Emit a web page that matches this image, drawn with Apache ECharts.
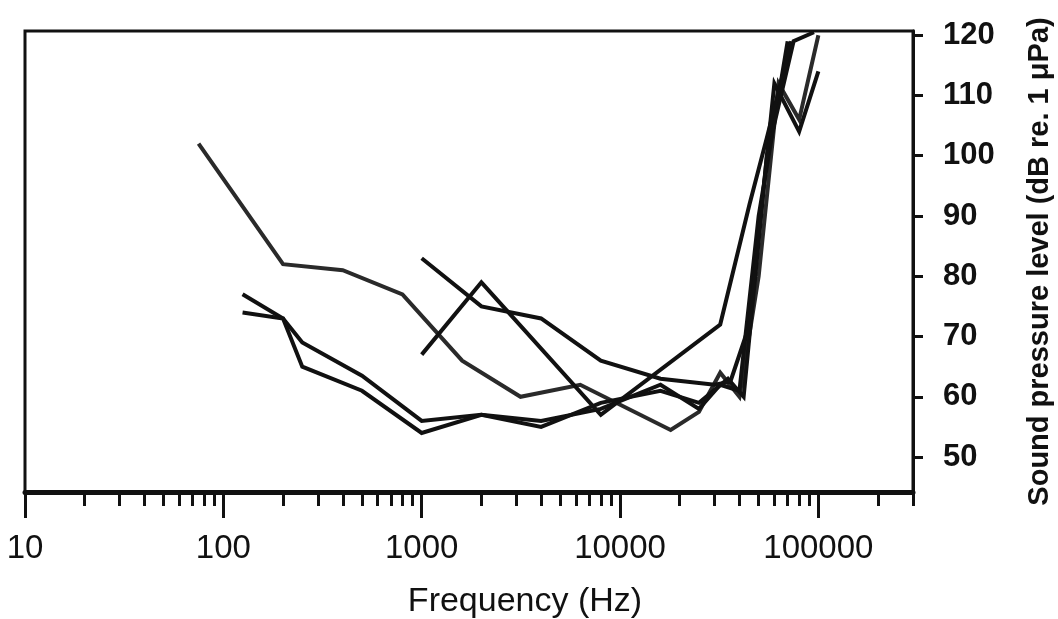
<!DOCTYPE html>
<html>
<head>
<meta charset="utf-8">
<script src="https://cdn.jsdelivr.net/npm/echarts@6/dist/echarts.min.js"></script>
<style>
html,body{margin:0;padding:0;background:#fff;}
#chart{width:1058px;height:619px;}
</style>
</head>
<body>
<div id="chart"></div>
<script>
// Frequencies (Hz) and thresholds (dB re. 1 µPa) for each audiogram
const freqA = [75, 200, 400, 800, 1600, 3150, 6300, 18000, 25000, 32000, 40000, 50000, 63000, 80000, 100000];
const dbA   = [102, 82, 81, 77, 66, 60, 62, 54.5, 57.5, 64, 60, 80, 112, 106, 120];

const freqB = [125, 200, 250, 500, 1000, 2000, 4000, 8000, 16000, 25000, 32000, 40000, 50000, 70000];
const dbB   = [77, 73, 69, 63.5, 56, 57, 56, 58, 62, 58, 62, 61, 90, 119];

const freqC = [125, 200, 250, 500, 1000, 2000, 4000, 8000, 16000, 25000, 35000, 42000, 55000, 75000, 95000];
const dbC   = [74, 73, 65, 61, 54, 57, 55, 59, 61, 59, 63, 60, 100, 119, 120.5];

const freqD = [1000, 2000, 4000, 8000, 16000, 30000, 36000, 45000, 60000, 80000, 100000];
const dbD   = [83, 75, 73, 66, 63, 62, 62.5, 72, 112, 104, 114];

const freqE = [1000, 2000, 8000, 32000, 45000, 55000, 73000];
const dbE   = [67, 79, 57, 72, 92, 103, 119];

// Axis ticks
const xMajorTicks = [10, 100, 1000, 10000, 100000];
const xMinorTicks = [20,30,40,50,60,70,80,90, 200,300,400,500,600,700,800,900,
                     2000,3000,4000,5000,6000,7000,8000,9000,
                     20000,30000,40000,50000,60000,70000,80000,90000, 200000, 300000];
const yTicks = [50, 60, 70, 80, 90, 100, 110, 120];

const X_MIN = 10, X_MAX = 300000, Y_MIN = 44.2, Y_MAX = 120.7;

function zip(f, d) { return f.map((v, i) => [v, d[i]]); }

const curves = [
  { name: 'A', data: zip(freqA, dbA), color: '#2a2a2a' },
  { name: 'B', data: zip(freqB, dbB), color: '#111' },
  { name: 'C', data: zip(freqC, dbC), color: '#111' },
  { name: 'D', data: zip(freqD, dbD), color: '#111' },
  { name: 'E', data: zip(freqE, dbE), color: '#111' }
];

const font = '"Liberation Sans", Arial, Helvetica, sans-serif';

const chart = echarts.init(document.getElementById('chart'), null, { renderer: 'canvas' });
chart.setOption({
  animation: false,
  backgroundColor: '#fff',
  grid: {
    left: 25, right: 145, top: 31, bottom: 127,
    containLabel: false, outerBoundsMode: 'none',
    show: true, borderColor: '#111', borderWidth: 3, backgroundColor: 'transparent'
  },
  xAxis: [
    {
      type: 'log', logBase: 10, min: X_MIN, max: X_MAX, position: 'bottom',
      axisLine: { show: true, lineStyle: { color: '#111', width: 5 } },
      axisTick: { show: true, inside: false, length: 26, customValues: xMajorTicks,
                  lineStyle: { color: '#111', width: 3 } },
      minorTick: { show: false },
      splitLine: { show: false },
      axisLabel: { show: true, customValues: xMajorTicks, margin: 40, color: '#111',
                   fontSize: 33, fontFamily: font,
                   formatter: v => String(Math.round(v)) },
      name: 'Frequency (Hz)', nameLocation: 'middle', nameGap: 93,
      nameTextStyle: { fontSize: 34, fontFamily: font, color: '#111', padding: [0, 0, 0, 112] }
    },
    {
      type: 'log', logBase: 10, min: X_MIN, max: X_MAX, position: 'bottom',
      axisLine: { show: false },
      axisTick: { show: true, inside: false, length: 14, customValues: xMinorTicks,
                  lineStyle: { color: '#111', width: 3 } },
      splitLine: { show: false },
      axisLabel: { show: false }
    }
  ],
  yAxis: {
    type: 'value', min: Y_MIN, max: Y_MAX, position: 'right',
    axisLine: { show: true, lineStyle: { color: '#111', width: 3 } },
    axisTick: { show: true, inside: false, length: 10, customValues: yTicks,
                lineStyle: { color: '#111', width: 3 } },
    splitLine: { show: false },
    axisLabel: { show: true, customValues: yTicks, margin: 30, color: '#111',
                 fontSize: 31, fontWeight: 'bold', fontFamily: font },
    name: 'Sound pressure level (dB re. 1 μPa)', nameLocation: 'middle', nameRotate: 90,
    nameGap: 112,
    nameTextStyle: { fontSize: 29, fontWeight: 'bold', fontFamily: font, color: '#111' }
  },
  series: curves.map(c => ({
    type: 'line', name: c.name, data: c.data, xAxisIndex: 0,
    symbol: 'none', smooth: false, clip: true,
    lineStyle: { color: c.color, width: 4, join: 'miter' }
  }))
});
</script>
</body>
</html>
